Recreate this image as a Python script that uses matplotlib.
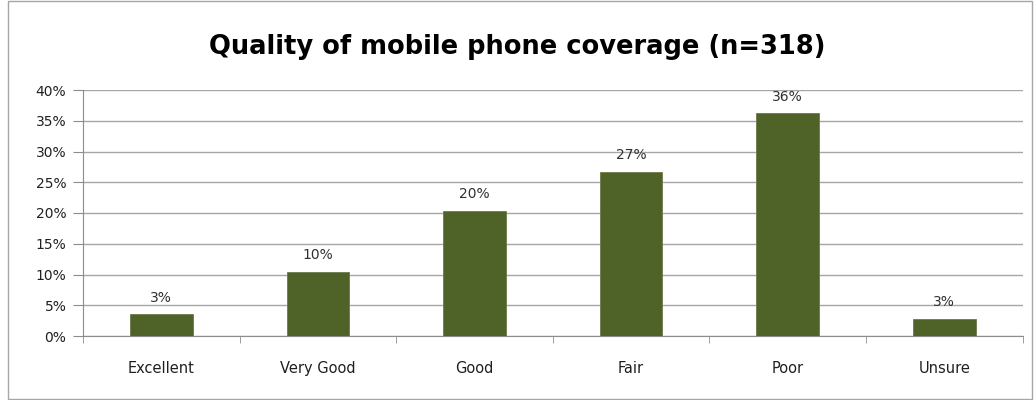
import matplotlib.pyplot as plt
from matplotlib.patches import Rectangle
from matplotlib.ticker import FuncFormatter

# survey answers (n=318)
categories = ["Excellent", "Very Good", "Good", "Fair", "Poor", "Unsure"]
percent = [3.5, 10.4, 20.4, 26.7, 36.2, 2.8]
bar_labels = ["3%", "10%", "20%", "27%", "36%", "3%"]

plt.rcParams['font.family'] = ['DejaVu Sans']

fig = plt.figure(figsize=(10.34, 4.0), dpi=100)
ax = fig.add_axes([0.0803, 0.16, 0.9087, 0.615])

# outer chart frame
fig.patches.append(Rectangle((0.008, 0.003), 0.99, 0.994, transform=fig.transFigure,
                             fill=False, edgecolor="#a6a6a6", linewidth=1))

x = range(len(categories))
ax.bar(x, percent, width=0.4, color="#4f6228", edgecolor="#6b7a4a", linewidth=0.6, zorder=3)

for xi, v, lab in zip(x, percent, bar_labels):
    ax.text(xi, v + 1.6, lab, ha="center", va="bottom", fontsize=10, color="#303030")

ax.set_xlim(-0.5, len(categories) - 0.5)
ax.set_ylim(0, 40)
ax.set_yticks(range(0, 41, 5))
ax.yaxis.set_major_formatter(FuncFormatter(lambda v, p: f"{int(v)}%"))
ax.yaxis.grid(True, color="#a6a6a6", linewidth=1, zorder=0)

ax.set_xticks(list(x))
ax.set_xticklabels(categories)
ax.set_xticks([i + 0.5 for i in range(-1, len(categories))], minor=True)
ax.tick_params(axis="x", which="major", length=0, pad=18, labelsize=10.5, labelcolor="#202020")
ax.tick_params(axis="x", which="minor", length=5, color="#8c8c8c")
ax.tick_params(axis="y", length=7, color="#8c8c8c", labelsize=10, labelcolor="#202020", pad=5)

for side in ["top", "right"]:
    ax.spines[side].set_visible(False)
for side in ["left", "bottom"]:
    ax.spines[side].set_color("#8c8c8c")

fig.suptitle("Quality of mobile phone coverage (n=318)", fontsize=18.5, fontweight="bold",
             x=0.5, y=0.915, color="#000000")

fig.savefig("out.png", dpi=100)
